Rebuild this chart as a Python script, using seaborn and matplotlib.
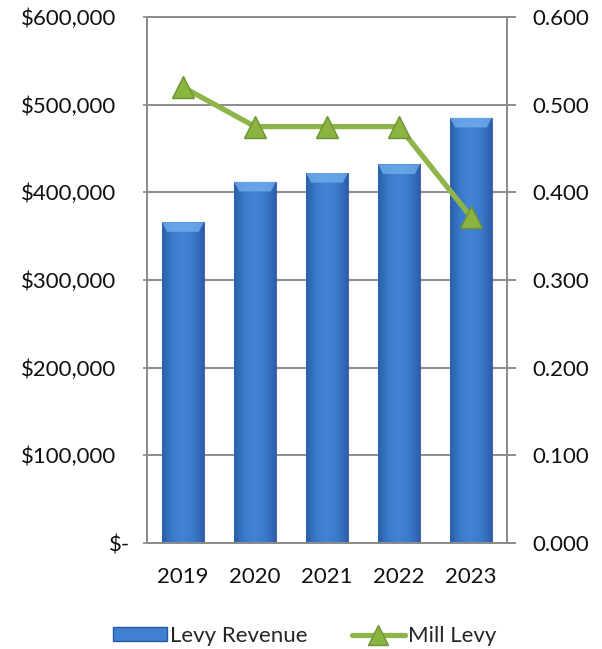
import numpy as np
import pandas as pd
import matplotlib
matplotlib.use("Agg")
import matplotlib.pyplot as plt
import seaborn as sns
from matplotlib.colors import LinearSegmentedColormap
from matplotlib.lines import Line2D
from matplotlib.patches import Rectangle, Polygon
from matplotlib.transforms import ScaledTranslation

years = ["2019", "2020", "2021", "2022", "2023"]
levy_revenue = [366000, 412000, 422000, 432000, 485000]
mill_levy = [0.520, 0.475, 0.475, 0.475, 0.372]
left_ticks = [0, 100000, 200000, 300000, 400000, 500000, 600000]
left_labels = ["$-", "$100,000", "$200,000", "$300,000", "$400,000", "$500,000", "$600,000"]
right_ticks = [0.0, 0.1, 0.2, 0.3, 0.4, 0.5, 0.6]
right_labels = ["0.000", "0.100", "0.200", "0.300", "0.400", "0.500", "0.600"]

sns.set_theme(style="white")
plt.rcParams["font.family"] = ["Lato", "DejaVu Sans"]

FS = 16
GRID = "#8c8c8c"
GREEN = "#8db54a"
TXT = "#111111"

fig = plt.figure(figsize=(6.02, 6.49), dpi=100)
ax = fig.add_axes([147 / 602, 106 / 649, 360 / 602, 526 / 649])

df = pd.DataFrame({"year": years, "revenue": levy_revenue})
sns.barplot(data=df, x="year", y="revenue", ax=ax, color="#3b78c9",
            width=0.58, saturation=1, zorder=3)

# horizontal shading across each bar for a rounded look
cmap = LinearSegmentedColormap.from_list(
    "bar", ["#2c5ea8", "#3a7acb", "#4284d3", "#3a7acb", "#2c5ea8"])
grad = np.linspace(0, 1, 256).reshape(1, -1)
for p in ax.patches:
    x0, w, h = p.get_x(), p.get_width(), p.get_height()
    im = ax.imshow(grad, cmap=cmap, aspect="auto", extent=[x0, x0 + w, 0, h],
                   zorder=3.5, interpolation="bicubic")
    im.set_clip_path(p)
    # lighter bevel along the top of the bar
    ax.add_patch(Polygon([(x0, h), (x0 + w, h), (x0 + w * 0.88, h - 11000),
                          (x0 + w * 0.12, h - 11000)], closed=True,
                         facecolor="#74b0f0", edgecolor="none", alpha=0.75,
                         zorder=4))
    p.set_edgecolor("#2a5a9e")
    p.set_linewidth(0.6)

ax.set_xlim(-0.5, 4.5)
ax.set_ylim(0, 600000)
ax.set_yticks(left_ticks)
ax.set_yticklabels(left_labels, fontsize=FS, color=TXT)
ax.set_xlabel("")
ax.set_ylabel("")
ax.tick_params(axis="x", labelsize=FS, pad=17, length=0, colors=TXT)
ax.tick_params(axis="y", pad=19, length=3, color=GRID, width=1.2)
ax.yaxis.grid(True, color=GRID, linewidth=1.4, zorder=1)
ax.set_axisbelow(True)
for s in ["left", "right", "top", "bottom"]:
    ax.spines[s].set_color(GRID)
    ax.spines[s].set_linewidth(1.4)

# move the zero label so its right edge sits further in than the others
lbl0 = ax.get_yticklabels()[0]
lbl0.set_transform(ax.get_yaxis_transform(which="tick1") +
                   ScaledTranslation(-17 / 100, 0, fig.dpi_scale_trans))

ax2 = ax.twinx()
sns.lineplot(x=list(range(len(years))), y=mill_levy, ax=ax2, color=GREEN,
             linewidth=3.8, marker="^", markersize=16,
             markerfacecolor="#8ab340", markeredgecolor="#6f9333",
             markeredgewidth=1.0, zorder=5)
ax2.set_ylim(0, 0.6)
ax2.set_yticks(right_ticks)
ax2.set_yticklabels(right_labels, fontsize=FS, color=TXT)
ax2.tick_params(axis="y", pad=12, length=6.5, color=GRID, width=1.4)
ax2.set_ylabel("")
for s in ["left", "right", "top", "bottom"]:
    ax2.spines[s].set_color(GRID)
    ax2.spines[s].set_linewidth(1.4)

handles = [
    Rectangle((0, 0), 1, 1, facecolor="#3f80d0", edgecolor="#2a5a9e"),
    Line2D([0], [0], color=GREEN, linewidth=3.8, marker="^", markersize=14,
           markerfacecolor="#8ab340", markeredgecolor="#6f9333"),
]
fig.legend(handles, ["Levy Revenue", "Mill Levy"], loc="center",
           bbox_to_anchor=(305 / 602, 1 - 636 / 649), ncol=2, frameon=False,
           fontsize=FS, handlelength=2.4, handleheight=0.55, handletextpad=0.15,
           columnspacing=2.0)

fig.savefig("out.png", dpi=100)
